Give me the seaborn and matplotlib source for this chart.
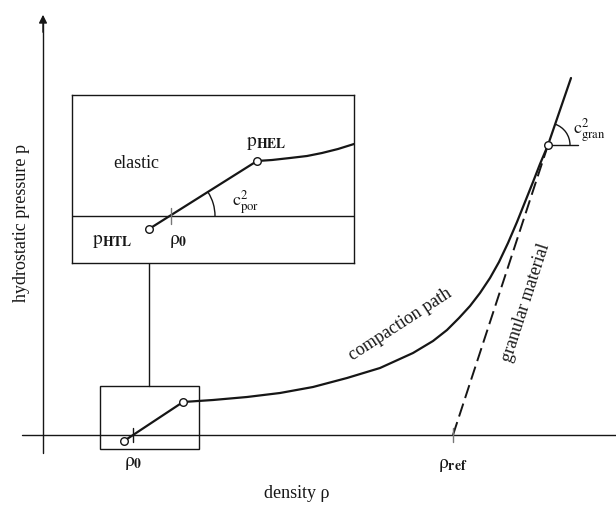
import numpy as np
import matplotlib
matplotlib.use("Agg")
import matplotlib.pyplot as plt
from matplotlib.patches import Arc, Rectangle
import seaborn as sns

# --- main diagram: density rho (x) vs hydrostatic pressure p (y) ---
path_rho = [81, 140, 170, 204, 237, 270, 304, 337, 370, 390, 404, 416, 427,
            437, 447, 456, 465, 474, 482, 490, 497, 505, 528]
path_p = [-6, 33, 35, 38, 42, 48, 57, 67, 82, 94, 105, 117, 129,
          142, 157, 173, 192, 213, 233, 253, 271, 290, 357]

gran_rho = [410, 505]
gran_p = [0, 290]

# marked states on the path: p_HTL, p_HEL, onset of granular branch
node_rho = [81, 140, 505]
node_p = [-6, 33, 290]

rho0 = 90
rho_ref = 410

# zoom box around the elastic region
zoom_rho = [57, 156]
zoom_p = [-14, 49]

# --- enlarged elastic region (own coordinates) ---
inset_rho = [77, 185, 200, 218, 235, 250, 266, 282]
inset_p = [-13, 55, 56, 58, 60, 63, 67, 72]
inset_node_rho = [77, 185]
inset_node_p = [-13, 55]
inset_rho0 = 99

INK = "#161616"

sns.set_style("white")
plt.rcParams["font.family"] = ["Liberation Serif", "DejaVu Serif"]
plt.rcParams["mathtext.fontset"] = "stix"

fig = plt.figure(figsize=(6.16, 5.07), dpi=100)
ax = fig.add_axes([0, 0, 1, 1])
ax.set_xlim(-43, 573)
ax.set_ylim(-72, 435)
ax.axis("off")

# axes with arrow heads
ax.plot([-21, 573], [0, 0], color=INK, lw=1.0)
ax.plot([0, 0], [-18, 415], color=INK, lw=1.0)
ax.annotate("", xy=(0, 423), xytext=(0, 400),
            arrowprops=dict(arrowstyle="-|>", color=INK, lw=1.0, mutation_scale=12))
ax.annotate("", xy=(575, 0), xytext=(555, 0),
            arrowprops=dict(arrowstyle="-|>", color=INK, lw=1.0, mutation_scale=12))

# compaction path and granular branch
sns.lineplot(x=path_rho, y=path_p, sort=False, estimator=None, color=INK,
             linewidth=1.6, ax=ax)
ax.lines[-1].set_solid_joinstyle("round")
sns.lineplot(x=gran_rho, y=gran_p, sort=False, estimator=None, color=INK,
             linewidth=1.4, ax=ax)
ax.lines[-1].set_dashes([7, 3])
ax.scatter(node_rho, node_p, s=30, facecolor="white", edgecolor=INK,
           linewidth=1.0, zorder=5)

# ticks at rho_0 and rho_ref
ax.plot([rho0, rho0], [-7, 7], color=INK, lw=1.0)
ax.plot([rho_ref, rho_ref], [-7, 7], color="#777777", lw=1.0)

# slope angle of the granular branch
ax.plot([505, 535], [290, 290], color=INK, lw=1.0)
ang = np.degrees(np.arctan2(357 - 290, 528 - 505))
ax.add_patch(Arc((505, 290), 44, 44, theta1=0, theta2=ang, color=INK, lw=1.0))
ax.text(530, 305, r"$\mathrm{c}^2_\mathrm{gran}$", fontsize=13, color=INK,
        ha="left", va="center")

# zoom box and connector
ax.add_patch(Rectangle((zoom_rho[0], zoom_p[0]), zoom_rho[1] - zoom_rho[0],
                       zoom_p[1] - zoom_p[0], fill=False, ec=INK, lw=1.0))
ax.plot([106, 106], [zoom_p[1], 172], color=INK, lw=1.0)

# labels
ax.text(-21, 212, "hydrostatic pressure p", rotation=90, fontsize=13,
        color=INK, ha="center", va="center")
ax.text(254, -58, "density ρ", fontsize=13, color=INK,
        ha="center", va="center")
ax.text(rho0, -28, r"$\mathrm{ρ}_\mathbf{0}$", fontsize=14, color=INK,
        ha="center", va="center")
ax.text(rho_ref, -30, r"$\mathrm{ρ}_\mathbf{ref}$", fontsize=14, color=INK,
        ha="center", va="center")
ax.text(357, 111, "compaction path", rotation=33, fontsize=13, color=INK,
        ha="center", va="center", rotation_mode="anchor")
ax.text(483, 132, "granular material", rotation=72, fontsize=13, color=INK,
        ha="center", va="center", rotation_mode="anchor")

# --- enlarged elastic region ---
ins = fig.add_axes([72 / 616, (507 - 263) / 507, 282 / 616, 168 / 507])
ins.set_xlim(0, 282)
ins.set_ylim(-47, 121)
ins.set_xticks([])
ins.set_yticks([])
for s in ins.spines.values():
    s.set_color(INK)
    s.set_linewidth(1.0)
ins.axhline(0, color=INK, lw=1.0)
sns.lineplot(x=inset_rho, y=inset_p, sort=False, estimator=None, color=INK,
             linewidth=1.6, ax=ins)
ins.scatter(inset_node_rho, inset_node_p, s=30, facecolor="white",
            edgecolor=INK, linewidth=1.0, zorder=5, clip_on=False)
ins.plot([inset_rho0, inset_rho0], [-8, 8], color="#777777", lw=1.0)
ang_por = np.degrees(np.arctan2(inset_p[1] - 0, inset_rho[1] - inset_rho0))
ins.add_patch(Arc((inset_rho0, 0), 88, 88, theta1=0, theta2=ang_por,
                  color=INK, lw=1.0))
ins.text(64, 53, "elastic", fontsize=13, color=INK, ha="center", va="center")
ins.text(194, 72, r"$\mathrm{p}_\mathbf{HEL}$", fontsize=14, color=INK,
         ha="center", va="center")
ins.text(174, 14, r"$\mathrm{c}^2_\mathrm{por}$", fontsize=13, color=INK,
         ha="center", va="center")
ins.text(40, -26, r"$\mathrm{p}_\mathbf{HTL}$", fontsize=14, color=INK,
         ha="center", va="center")
ins.text(106, -26, r"$\mathrm{ρ}_\mathbf{0}$", fontsize=14, color=INK,
         ha="center", va="center")

fig.savefig("out.png", dpi=100, facecolor="white")
